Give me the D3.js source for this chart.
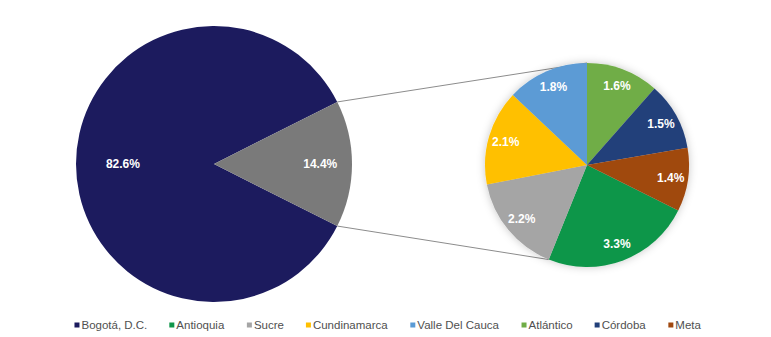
<!DOCTYPE html>
<html>
<head>
<meta charset="utf-8">
<script src="https://cdn.jsdelivr.net/npm/d3@7"></script>
<style>
  html, body { margin: 0; padding: 0; background: #ffffff; }
  svg { display: block; font-family: "Liberation Sans", Arial, sans-serif; }
</style>
</head>
<body>
<svg id="chart" width="771" height="337"></svg>
<script>
// Main pie: Bogotá vs. the rest of the departments (grouped)
const mainNames  = ["Bogotá, D.C.", "Otros departamentos"];
const mainValues = [82.6, 14.4];
const mainColors = ["#1c1b5e", "#7a7a7a"];

// Breakdown of the grouped slice
const detailNames  = ["Antioquia", "Sucre", "Cundinamarca", "Valle Del Cauca", "Atlántico", "Córdoba", "Meta"];
const detailValues = [3.3, 2.2, 2.1, 1.8, 1.6, 1.5, 1.4];
const detailColors = ["#10964a", "#a5a5a5", "#ffc000", "#5b9bd5", "#70ad47", "#22407a", "#a0480f"];

// Legend entries
const legendNames  = ["Bogotá, D.C.", "Antioquia", "Sucre", "Cundinamarca", "Valle Del Cauca", "Atlántico", "Córdoba", "Meta"];
const legendColors = ["#1c1b5e", "#10964a", "#a5a5a5", "#ffc000", "#5b9bd5", "#70ad47", "#22407a", "#a0480f"];

const fmt = d => d3.format(".1f")(d) + "%";
const svg = d3.select("#chart");

const defs = svg.append("defs");
defs.append("filter").attr("id", "soft").attr("x", "-20%").attr("y", "-20%").attr("width", "140%").attr("height", "140%")
  .append("feDropShadow").attr("dx", 0).attr("dy", 0).attr("stdDeviation", 4)
  .attr("flood-color", "#000").attr("flood-opacity", 0.22);

// ---- main pie ----
const main = { cx: 214, cy: 164, r: 138 };
const mainTotal = d3.sum(mainValues);
const groupSpan = mainValues[1] / mainTotal * 2 * Math.PI;
const mainStart = Math.PI / 2 + groupSpan / 2;   // grouped slice centred at 3 o'clock

const mainArcs = d3.pie().sort(null).startAngle(mainStart).endAngle(mainStart + 2 * Math.PI)(mainValues);
const mainArc = d3.arc().innerRadius(0).outerRadius(main.r);
// the large slice carries its label closer to the centre
const mainLabelPos = d => {
  const k = d.index === 0 ? 0.66 : 0.77;
  const a = (d.startAngle + d.endAngle) / 2;
  return [main.r * k * Math.sin(a), -main.r * k * Math.cos(a)];
};

const gMain = svg.append("g").attr("transform", `translate(${main.cx},${main.cy})`);
gMain.selectAll("path").data(mainArcs).join("path")
  .attr("d", mainArc).attr("fill", (d, i) => mainColors[i]);
gMain.selectAll("text").data(mainArcs).join("text")
  .attr("transform", d => `translate(${mainLabelPos(d)})`)
  .attr("text-anchor", "middle").attr("dy", "0.35em")
  .attr("fill", "#fff").attr("font-weight", "bold").attr("font-size", 12)
  .text(d => fmt(d.value));

// ---- detail pie ----
const det = { cx: 587, cy: 165, r: 102 };
const detTotal = d3.sum(detailValues);
const tail = d3.sum(detailValues.slice(-3));          // last three sit just right of 12 o'clock
const startA = (tail / detTotal) * 2 * Math.PI;
const detArcs = d3.pie().sort(null).startAngle(startA).endAngle(startA + 2 * Math.PI)(detailValues);
const detArc = d3.arc().innerRadius(0).outerRadius(det.r);
const detLabelArc = d3.arc().innerRadius(det.r * 0.83).outerRadius(det.r * 0.83);

// connector lines from the grouped slice edge to the detail pie
const polar = (c, r, a) => [c.cx + r * Math.sin(a), c.cy - r * Math.cos(a)];
const gStart = mainArcs[1].startAngle, gEnd = mainArcs[1].endAngle;
const antEnd = detArcs[0].endAngle;
const connectors = [
  [polar(main, main.r, gStart), polar(det, det.r, 2 * Math.PI)],
  [polar(main, main.r, gEnd), polar(det, det.r, antEnd)]
];
svg.append("g").selectAll("line").data(connectors).join("line")
  .attr("x1", d => d[0][0]).attr("y1", d => d[0][1])
  .attr("x2", d => d[1][0]).attr("y2", d => d[1][1])
  .attr("stroke", "#8c8c8c").attr("stroke-width", 1);

const gDet = svg.append("g").attr("transform", `translate(${det.cx},${det.cy})`);
gDet.append("g").attr("filter", "url(#soft)")
  .selectAll("path").data(detArcs).join("path")
  .attr("d", detArc).attr("fill", (d, i) => detailColors[i]);
gDet.selectAll("text").data(detArcs).join("text")
  .attr("transform", d => `translate(${detLabelArc.centroid(d)})`)
  .attr("text-anchor", "middle").attr("dy", "0.35em")
  .attr("fill", "#fff").attr("font-weight", "bold").attr("font-size", 12)
  .text(d => fmt(d.value));

// ---- legend ----
const legend = svg.append("g").attr("transform", "translate(0,325)");
const items = legend.selectAll("g").data(legendNames).join("g");
items.append("rect").attr("width", 5).attr("height", 5).attr("y", -2.5)
  .attr("fill", (d, i) => legendColors[i]);
items.append("text").attr("x", 7).attr("dy", "0.35em")
  .attr("font-size", 11.5).attr("fill", "#505050").text(d => d);
let x = 0; const gap = 22; const pos = [];
items.each(function () {
  pos.push(x);
  x += this.getBBox().width + gap;
});
const totalW = x - gap;
const x0 = 388 - totalW / 2;
items.attr("transform", (d, i) => `translate(${x0 + pos[i]},0)`);
</script>
</body>
</html>
